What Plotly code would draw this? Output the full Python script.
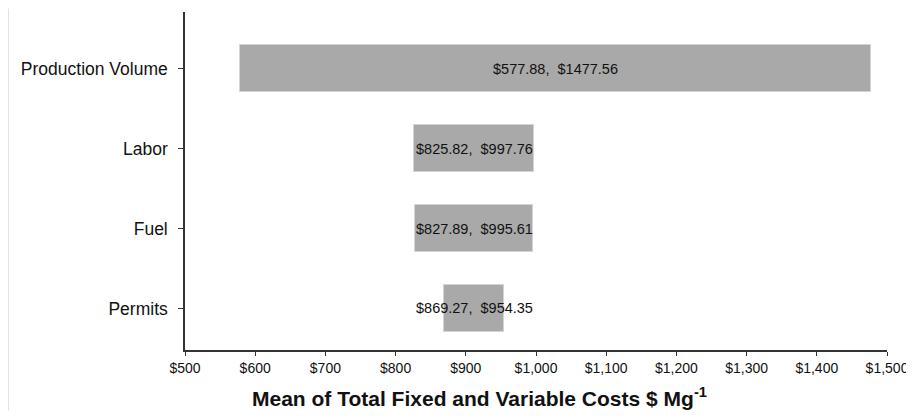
import plotly.graph_objects as go

categories = ["Permits", "Fuel", "Labor", "Production Volume"]
low_values = [869.27, 827.89, 825.82, 577.88]
high_values = [954.35, 995.61, 997.76, 1477.56]
x_tick_values = [500, 600, 700, 800, 900, 1000, 1100, 1200, 1300, 1400, 1500]
x_tick_labels = ["$500", "$600", "$700", "$800", "$900", "$1,000", "$1,100",
                 "$1,200", "$1,300", "$1,400", "$1,500"]

positions = list(range(len(categories)))
FONT = "Arial, Liberation Sans, sans-serif"

fig = go.Figure()
fig.add_trace(go.Bar(
    y=positions,
    x=[h - l for l, h in zip(low_values, high_values)],
    base=low_values,
    orientation="h",
    width=0.59,
    marker=dict(color="#a9a9a9", line=dict(color="#d4d4d4", width=1)),
    hoverinfo="skip",
    showlegend=False,
))

for p, l, h in zip(positions, low_values, high_values):
    fig.add_annotation(
        x=(l + h) / 2, y=p, xref="x", yref="y",
        text=f"${l:.2f},  ${h:.2f}",
        showarrow=False,
        font=dict(family=FONT, size=14.5, color="#111111"),
    )

fig.add_annotation(
    x=0.419, y=-0.139, xref="paper", yref="paper", yanchor="middle",
    text="<b>Mean of Total Fixed and Variable Costs $ Mg<sup>-1</sup></b>",
    showarrow=False,
    font=dict(family=FONT, size=21, color="#111111"),
)

fig.add_shape(type="line", xref="paper", yref="paper",
              x0=-0.2514, x1=-0.2514, y0=-0.18, y1=1.01,
              line=dict(color="#e2e2e2", width=1))

fig.update_layout(
    width=898, height=404,
    margin=dict(l=177, r=19, t=4, b=61.5),
    paper_bgcolor="white", plot_bgcolor="white",
    bargap=0,
    xaxis=dict(
        range=[500, 1500],
        tickvals=x_tick_values, ticktext=x_tick_labels,
        showgrid=False, zeroline=False,
        showline=True, linecolor="#333333", linewidth=1.5,
        ticks="outside", ticklen=4, tickcolor="#333333",
        tickfont=dict(family=FONT, size=14, color="#111111"),
        ticklabelstandoff=0,
        ticklabeloverflow="allow",
        automargin=False,
    ),
    yaxis=dict(
        range=[-0.52, 3.71],
        tickvals=positions, ticktext=categories,
        showgrid=False, zeroline=False,
        showline=True, linecolor="#333333", linewidth=1.5,
        ticks="outside", ticklen=5, tickcolor="#333333",
        tickfont=dict(family=FONT, size=17.5, color="#111111"),
        ticklabelstandoff=7,
        automargin=False,
    ),
)

fig.write_html("out.html")
